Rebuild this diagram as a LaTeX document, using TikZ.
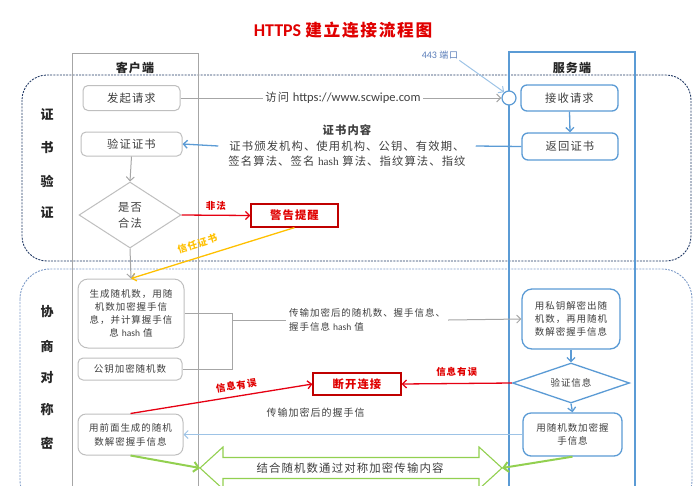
\documentclass[tikz,border=0pt]{standalone}
\usepackage{fontspec}
\setmainfont{Carlito}
\newfontfamily\cjk[LetterSpace=10]{Noto Sans CJK SC}
\newfontfamily\lat{Carlito}
\newfontfamily\ser{Liberation Serif}
\usetikzlibrary{arrows.meta,shapes.geometric}
\newcommand\myfs[2]{\fontsize{#1}{#2}\selectfont}
\definecolor{tdark}{HTML}{3F3F3F}
\definecolor{cgrey}{HTML}{BFBFBF}
\definecolor{lgrey}{HTML}{A6A6A6}
\definecolor{sblue}{HTML}{5B9BD5}
\definecolor{lblue}{HTML}{9DC3E6}
\definecolor{navy}{HTML}{203864}
\definecolor{sectwo}{HTML}{7F9CC8}
\definecolor{rline}{HTML}{E60012}
\definecolor{rboxc}{HTML}{C00000}
\definecolor{rtext}{HTML}{E00000}
\definecolor{ylw}{HTML}{FFC000}
\definecolor{grn}{HTML}{92D050}
\definecolor{portc}{HTML}{5A7DB9}
\begin{document}
\begin{tikzpicture}[x=1pt,y=-1pt,
  >={Straight Barb[length=4pt,width=8pt]},
  txt/.style={text=tdark, font=\cjk\myfs{11.3}{13}},
  stxt/.style={text=tdark, font=\cjk\myfs{9.5}{12.8}},
  cbox/.style={draw=cgrey, line width=1pt, rounded corners=5pt, fill=white, align=center, inner sep=1pt},
  sbox/.style={draw=sblue, line width=1.3pt, rounded corners=6pt, fill=white, align=center, inner sep=1pt},
  rbox/.style={draw=rboxc, line width=1.2pt, fill=white, text=rtext, font=\cjk\bfseries\myfs{11.3}{13}, inner sep=1pt},
  hdr/.style={text=black!85, font=\cjk\bfseries\myfs{12}{13}},
  seclab/.style={text=black!85, font=\cjk\bfseries\myfs{13}{14}},
  rlab/.style={text=rtext, font=\cjk\bfseries\myfs{9.5}{11}},
  gline/.style={draw=lgrey, line width=1pt},
  bline/.style={draw=sblue, line width=1.3pt},
  redl/.style={draw=rline, line width=1.3pt},
]
\useasboundingbox (0,0) rectangle (700,485);
\clip (0,0) rectangle (700,485);

% title
\node (title) at (343,30) {\color{rtext}\lat\bfseries\myfs{18}{20}HTTPS \cjk\bfseries\myfs{16.7}{20}建立连接流程图};

% sections
\draw[navy, line width=0.9pt, dash pattern=on 2pt off 1.2pt, rounded corners=25pt] (22,75) rectangle (691,261);
\draw[sectwo, line width=0.9pt, dash pattern=on 2pt off 1.2pt, rounded corners=30pt] (20,269) rectangle (692,510);

% lanes
\draw[lgrey, line width=1pt] (72,53) rectangle (198,520);
\draw[sblue, line width=1.2pt] (509,52) rectangle (635,520);
\node[hdr] (chead) at (135,68) {客户端};
\node[hdr] (shead) at (572,68) {服务端};

% section labels
\node[seclab] (la) at (47,115) {证};
\node[seclab] (lb) at (47,148) {书};
\node[seclab] (lc) at (47,181) {验};
\node[seclab] (ld) at (47,213) {证};
\node[seclab] (le) at (47,312) {协};
\node[seclab] (lf) at (47,346) {商};
\node[seclab] (lg) at (47,378) {对};
\node[seclab] (lh) at (47,410) {称};
\node[seclab] (li) at (47,443) {密};

% client nodes
\node[cbox, txt, minimum width=97pt, minimum height=25pt] (req) at (131.5,98) {发起请求};
\node[cbox, txt, minimum width=101pt, minimum height=24pt] (verify) at (131.5,144) {验证证书};
\node[draw=cgrey, line width=1pt, diamond, shape aspect=1.55, inner sep=1pt, minimum width=102pt, minimum height=66pt, align=center, fill=white, txt, font=\cjk\myfs{11.3}{16}] (legal) at (130,215) {是否\\合法};
\node[cbox, stxt, rounded corners=10pt, minimum width=106pt, minimum height=69pt] (gen) at (131,313.5) {生成随机数，用随\\机数加密握手信\\息，并计算握手信\\息 {\lat hash} 值};
\node[cbox, stxt, minimum width=104pt, minimum height=22pt] (pubenc) at (130,369) {公钥加密随机数};
\node[cbox, stxt, rounded corners=8pt, minimum width=105pt, minimum height=41pt, font=\cjk\myfs{9.5}{14}] (decrypt) at (130.5,434.5) {用前面生成的随机\\数解密握手信息};

% server nodes
\node[circle, draw=sblue, line width=1.2pt, fill=white, minimum size=14pt, inner sep=0pt] (port) at (509,98) {};
\node[sbox, txt, minimum width=97pt, minimum height=26pt] (recv) at (569.5,98) {接收请求};
\node[sbox, txt, minimum width=96pt, minimum height=27pt] (ret) at (570,146.5) {返回证书};
\node[sbox, stxt, rounded corners=10pt, minimum width=98pt, minimum height=60pt] (privdec) at (571,319) {用私钥解密出随\\机数，再用随机\\数解密握手信息};
\node[draw=sblue, line width=1.3pt, diamond, shape aspect=2.9, inner sep=1pt, minimum width=117pt, minimum height=40pt, fill=white, stxt] (vdiam) at (571,383) {验证信息};
\node[sbox, stxt, rounded corners=8pt, minimum width=99pt, minimum height=43pt] (enc) at (572.5,434.5) {用随机数加密握\\手信息};

% red boxes
\node[rbox, minimum width=87pt, minimum height=23pt] (warn) at (294.5,215.5) {警告提醒};
\node[rbox, minimum width=88pt, minimum height=22pt] (disc) at (357,384) {断开连接};

% texts
\node[text=tdark, inner sep=2pt] (url) at (343,98) {\cjk\myfs{11.3}{13}访问 \lat\myfs{12.5}{14}https://www.scwipe.com};
\node[text=portc, inner sep=1pt] (p443) at (440,55) {\lat\myfs{10}{12}443 \cjk\myfs{9}{12}端口};
\node[txt, align=center, inner xsep=10pt, inner ysep=1pt, font=\cjk\myfs{11.3}{15.5}] (cert) at (347,146) {{\bfseries 证书内容}\\证书颁发机构、使用机构、公钥、有效期、\\签名算法、签名 {\ser hash} 算法、指纹算法、指纹};
\node[stxt, align=left, anchor=west, inner sep=3pt, font=\cjk\myfs{9.5}{14}] (tx2) at (286,320) {传输加密后的随机数、握手信息、\\握手信息 {\lat hash} 值};

% connectors: certificate verification
\draw[gline] (req.east) -- (url.west);
\draw[gline, ->] (url.east) -- (port.west);
\draw[lblue, line width=1pt, ->] (p443.south east) -- (port.130);
\draw[bline, ->] (recv.south) -- (ret.north);
\draw[bline] (ret.west) -- (cert.east);
\draw[bline, ->] (cert.west) -- (verify.east);
\draw[gline, ->] (verify.south) -- (legal.north);
\draw[redl, ->] (legal.east) -- node[rlab, above=1pt] {非法} (warn.west);
\draw[ylw, line width=1.3pt, ->] (warn.south) -- node[pos=0.57, sloped, above=5pt, text=ylw, font=\cjk\bfseries\myfs{9.5}{11}] {信任证书} (gen.north);
\draw[gline, ->] (legal.south) -- (gen.north);

% connectors: negotiation
\coordinate (b1) at (232,313.5);
\coordinate (b2) at (232,369);
\coordinate (bx) at (232,320);
\draw[gline] (gen.east) -- (b1) -- (b2) -- (pubenc.east);
\draw[gline] (bx) -- (tx2.west);
\draw[gline, ->] (tx2.east) -- (privdec.west);
\draw[bline, ->] (privdec.south) -- (vdiam.north);
\draw[redl, ->] (vdiam.west) -- node[rlab, above=3pt] {信息有误} (disc.east);
\draw[redl, ->] (decrypt.north) -- node[pos=0.59, sloped, rlab, above=2pt] {信息有误} (disc.west);
\draw[bline, ->] (vdiam.south) -- (enc.north);
\draw[lblue, line width=1pt, ->] (enc.west) -- node[pos=0.61, above=13pt, stxt, font=\cjk\myfs{10}{12}] {传输加密后的握手信} (enc.west -| decrypt.east);

% big double arrow
\coordinate (ltip) at (200,468);
\coordinate (rtip) at (502,468);
\draw[grn, line width=1.1pt, fill=white] (ltip) -- (223,447) -- (223,457.5) -- (479,457.5) -- (479,447) -- (rtip) -- (479,489) -- (479,478.5) -- (223,478.5) -- (223,489) -- cycle;
\node[txt, font=\cjk\myfs{11.4}{13}] (sym) at (350,468) {结合随机数通过对称加密传输内容};
\draw[grn, line width=2pt, -{Straight Barb[length=5pt,width=10pt]}] (decrypt.south) -- (ltip);
\draw[grn, line width=2pt, -{Straight Barb[length=5pt,width=10pt]}] (enc.south) -- (rtip);
\end{tikzpicture}
\end{document}
